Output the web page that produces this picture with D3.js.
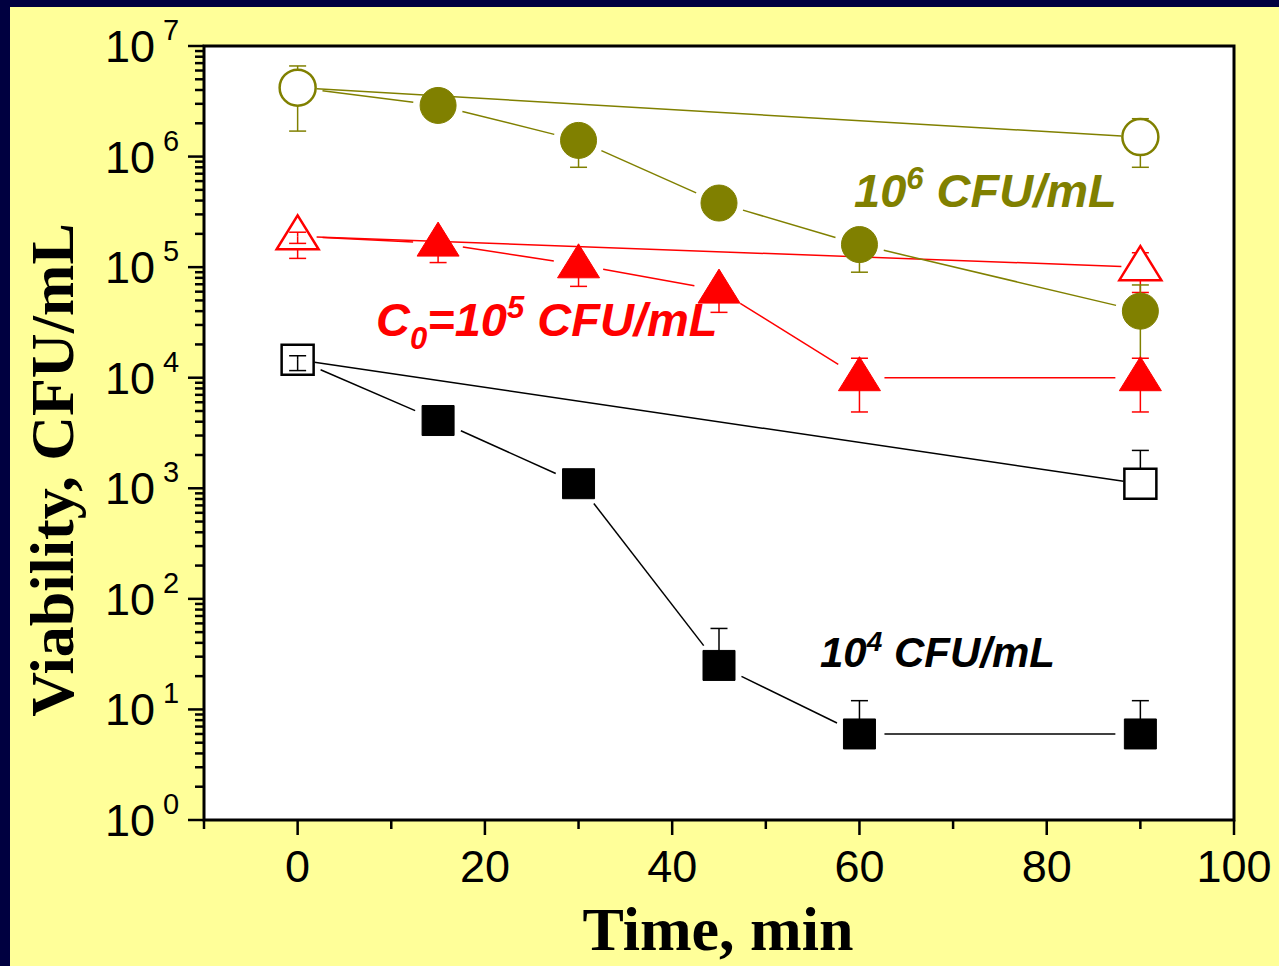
<!DOCTYPE html>
<html>
<head>
<meta charset="utf-8">
<script src="https://cdn.jsdelivr.net/npm/d3@7"></script>
<style>
  body { margin: 0; background: #000040; }
  svg { display: block; }
</style>
</head>
<body>
<div id="chart"></div>
<script>
// time points (min)
var timesAll = [0, 15, 30, 45, 60, 90];
var timesCtrl = [0, 90];

// 10^6 CFU/mL
var c6CtrlVal = [4.2e6, 1.5e6];
var c6CtrlHi = [6.6e6, 2.2e6];
var c6CtrlLo = [1.7e6, 8.0e5];
var c6Val = [4.2e6, 2.9e6, 1.4e6, 3.8e5, 1.6e5, 4.0e4];
var c6Hi = [4.2e6, 2.9e6, 1.9e6, 3.8e5, 2.2e5, 6.9e4];
var c6Lo = [4.2e6, 2.9e6, 8.0e5, 3.8e5, 9.0e4, 1.0e4];

// 10^5 CFU/mL
var c5CtrlVal = [1.9e5, 1.0e5];
var c5CtrlHi = [1.9e5, 1.35e5];
var c5CtrlLo = [1.2e5, 5.9e4];
var c5Val = [1.9e5, 1.65e5, 1.05e5, 6.2e4, 1.0e4, 1.0e4];
var c5Hi = [2.07e5, 1.65e5, 1.05e5, 6.2e4, 1.5e4, 1.5e4];
var c5Lo = [1.64e5, 1.1e5, 6.7e4, 3.9e4, 4.9e3, 4.9e3];

// 10^4 CFU/mL
var c4CtrlVal = [1.45e4, 1.1e3];
var c4CtrlHi = [1.45e4, 2.2e3];
var c4CtrlLo = [1.45e4, 1.1e3];
var c4Val = [1.45e4, 4.1e3, 1.1e3, 25, 6, 6];
var c4Hi = [1.58e4, 4.1e3, 1.1e3, 54, 12, 12];
var c4Lo = [1.16e4, 4.1e3, 1.1e3, 25, 6, 6];

var xTicks = [0, 20, 40, 60, 80, 100];
var yExps = [0, 1, 2, 3, 4, 5, 6, 7];

var W = 1279, H = 966;
var plot = { left: 204, right: 1234, top: 46, bottom: 820 };

var svg = d3.select("#chart").append("svg")
    .attr("width", W)
    .attr("height", H);

// navy frame + yellow page
svg.append("rect").attr("width", W).attr("height", H).attr("fill", "#000040");
svg.append("rect").attr("x", 10).attr("y", 7).attr("width", W - 10).attr("height", H - 7)
    .attr("fill", "#ffff99");
svg.append("rect")
    .attr("x", plot.left).attr("y", plot.top)
    .attr("width", plot.right - plot.left).attr("height", plot.bottom - plot.top)
    .attr("fill", "#fff");

var x = d3.scaleLinear().domain([-10, 100]).range([plot.left, plot.right]);
var y = d3.scaleLog().domain([1, 1e7]).range([plot.bottom, plot.top]);

// x axis ticks
var xMinor = d3.range(-10, 101, 10).filter(function (d) { return xTicks.indexOf(d) < 0; });
var gx = svg.append("g");
gx.selectAll(".maj").data(xTicks).enter().append("line")
    .attr("x1", function (d) { return x(d); }).attr("x2", function (d) { return x(d); })
    .attr("y1", plot.bottom).attr("y2", plot.bottom + 15)
    .attr("stroke", "#000").attr("stroke-width", 2.5);
gx.selectAll(".min").data(xMinor).enter().append("line")
    .attr("x1", function (d) { return x(d); }).attr("x2", function (d) { return x(d); })
    .attr("y1", plot.bottom).attr("y2", plot.bottom + 9)
    .attr("stroke", "#000").attr("stroke-width", 2.5);
gx.selectAll("text").data(xTicks).enter().append("text")
    .attr("x", function (d) { return x(d); })
    .attr("y", plot.bottom + 62)
    .attr("text-anchor", "middle")
    .attr("font-family", "Liberation Sans, Arial, sans-serif")
    .attr("font-size", 45)
    .text(function (d) { return d; });

// y axis ticks (log)
var yMinor = [];
yExps.slice(0, -1).forEach(function (e) {
    for (var k = 2; k <= 9; k++) yMinor.push(k * Math.pow(10, e));
});
var gy = svg.append("g");
gy.selectAll(".maj").data(yExps).enter().append("line")
    .attr("x1", plot.left - 16).attr("x2", plot.left)
    .attr("y1", function (e) { return y(Math.pow(10, e)); })
    .attr("y2", function (e) { return y(Math.pow(10, e)); })
    .attr("stroke", "#000").attr("stroke-width", 2.5);
gy.selectAll(".min").data(yMinor).enter().append("line")
    .attr("x1", plot.left - 9).attr("x2", plot.left)
    .attr("y1", function (d) { return y(d); })
    .attr("y2", function (d) { return y(d); })
    .attr("stroke", "#000").attr("stroke-width", 2.5);
var yl = gy.selectAll("text").data(yExps).enter().append("text")
    .attr("x", 105)
    .attr("y", function (e) { return y(Math.pow(10, e)) + 16; })
    .attr("font-family", "Liberation Sans, Arial, sans-serif")
    .attr("font-size", 45);
yl.append("tspan").text("10");
yl.append("tspan").attr("dx", 8).attr("dy", -22).attr("font-size", 29)
    .text(function (e) { return e; });

// frame
svg.append("rect")
    .attr("x", plot.left).attr("y", plot.top)
    .attr("width", plot.right - plot.left).attr("height", plot.bottom - plot.top)
    .attr("fill", "none").attr("stroke", "#000").attr("stroke-width", 3);

// axis titles
svg.append("text")
    .attr("x", 718).attr("y", 950)
    .attr("text-anchor", "middle")
    .attr("font-family", "Liberation Serif, Times New Roman, serif")
    .attr("font-weight", "bold").attr("font-size", 62)
    .text("Time, min");
svg.append("text")
    .attr("transform", "translate(73,470) rotate(-90)")
    .attr("text-anchor", "middle")
    .attr("font-family", "Liberation Serif, Times New Roman, serif")
    .attr("font-weight", "bold").attr("font-size", 62)
    .text("Viability, CFU/mL");

var series = [
    { t: timesCtrl, v: c6CtrlVal, hi: c6CtrlHi, lo: c6CtrlLo, color: "#808000", shape: "circle", open: true, gap: 19 },
    { t: timesCtrl, v: c5CtrlVal, hi: c5CtrlHi, lo: c5CtrlLo, color: "#ff0000", shape: "triangle", open: true, gap: 19 },
    { t: timesCtrl, v: c4CtrlVal, hi: c4CtrlHi, lo: c4CtrlLo, color: "#000000", shape: "square", open: true, gap: 17 },
    { t: timesAll, v: c6Val, hi: c6Hi, lo: c6Lo, color: "#808000", shape: "circle", open: false, gap: 25 },
    { t: timesAll, v: c5Val, hi: c5Hi, lo: c5Lo, color: "#ff0000", shape: "triangle", open: false, gap: 25 },
    { t: timesAll, v: c4Val, hi: c4Hi, lo: c4Lo, color: "#000000", shape: "square", open: false, gap: 25 }
];

function markerPath(shape) {
    if (shape === "circle") return d3.symbol(d3.symbolCircle, Math.PI * 18 * 18)();
    if (shape === "square") return "M-16,-15H16V15H-16Z";
    return "M0,-21L21,13H-21Z";
}

series.forEach(function (s) {
    var g = svg.append("g");
    var pts = s.t.map(function (t, i) { return [x(t), y(s.v[i])]; });
    // connecting segments with gaps at the markers
    for (var i = 0; i < pts.length - 1; i++) {
        var p = pts[i], q = pts[i + 1];
        var dx = q[0] - p[0], dy = q[1] - p[1];
        var len = Math.sqrt(dx * dx + dy * dy);
        if (len < 2 * s.gap) continue;
        var ux = dx / len, uy = dy / len;
        g.append("line")
            .attr("x1", p[0] + ux * s.gap).attr("y1", p[1] + uy * s.gap)
            .attr("x2", q[0] - ux * s.gap).attr("y2", q[1] - uy * s.gap)
            .attr("stroke", s.color).attr("stroke-width", 1.5);
    }
    // error bars
    s.t.forEach(function (t, i) {
        var cx = x(t);
        [s.hi[i], s.lo[i]].forEach(function (e) {
            if (e === s.v[i]) return;
            g.append("line")
                .attr("x1", cx).attr("x2", cx)
                .attr("y1", y(s.v[i])).attr("y2", y(e))
                .attr("stroke", s.color).attr("stroke-width", 1.5);
            g.append("line")
                .attr("x1", cx - 8.5).attr("x2", cx + 8.5)
                .attr("y1", y(e)).attr("y2", y(e))
                .attr("stroke", s.color).attr("stroke-width", 1.5);
        });
    });
    // markers (filled series share the t=0 point with the open one)
    var mk = s.t.map(function (t, i) { return i; }).filter(function (i) { return s.open || i > 0; });
    g.selectAll("path.mk").data(mk).enter().append("path")
        .attr("class", "mk")
        .attr("transform", function (i) { return "translate(" + pts[i][0] + "," + pts[i][1] + ")"; })
        .attr("d", markerPath(s.shape))
        .attr("fill", s.open ? "#fff" : s.color)
        .attr("stroke", s.color)
        .attr("stroke-width", s.open ? 2.5 : 1);
});

// annotations
var font = "Liberation Sans, Arial, sans-serif";
var a6 = svg.append("text").attr("x", 854).attr("y", 207)
    .attr("font-family", font).attr("font-weight", "bold").attr("font-style", "italic")
    .attr("font-size", 47).attr("fill", "#808000");
a6.append("tspan").text("10");
a6.append("tspan").attr("dy", -18).attr("font-size", 31).text("6");
a6.append("tspan").attr("dy", 18).text(" CFU/mL");

var a5 = svg.append("text").attr("x", 376).attr("y", 336)
    .attr("font-family", font).attr("font-weight", "bold").attr("font-style", "italic")
    .attr("font-size", 47).attr("fill", "#ff0000");
a5.append("tspan").text("C");
a5.append("tspan").attr("dy", 13).attr("font-size", 31).text("0");
a5.append("tspan").attr("dy", -13).text("=10");
a5.append("tspan").attr("dy", -18).attr("font-size", 31).text("5");
a5.append("tspan").attr("dy", 18).text(" CFU/mL");

var a4 = svg.append("text").attr("x", 820).attr("y", 667)
    .attr("font-family", font).attr("font-weight", "bold").attr("font-style", "italic")
    .attr("font-size", 42).attr("fill", "#000");
a4.append("tspan").text("10");
a4.append("tspan").attr("dy", -16).attr("font-size", 28).text("4");
a4.append("tspan").attr("dy", 16).text(" CFU/mL");
</script>
</body>
</html>
